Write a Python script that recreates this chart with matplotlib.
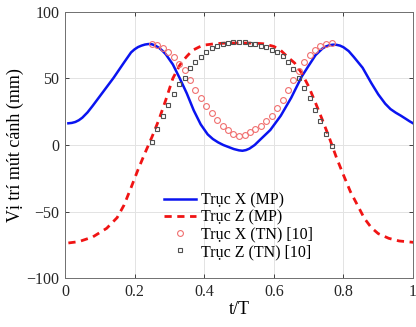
import matplotlib
matplotlib.use("Agg")
import matplotlib.pyplot as plt

# Trục X (MP) - blue solid
tx_mp = [0.01, 0.02, 0.03, 0.04, 0.05, 0.065, 0.08, 0.11, 0.14, 0.17, 0.19, 0.20, 0.21, 0.22,
         0.23, 0.24, 0.25, 0.26, 0.27, 0.28, 0.29, 0.31, 0.33, 0.35, 0.37, 0.39, 0.41, 0.425,
         0.44, 0.455, 0.47, 0.485, 0.50, 0.51, 0.52, 0.53, 0.545, 0.56, 0.59, 0.62, 0.65,
         0.68, 0.70, 0.72, 0.74, 0.75, 0.76, 0.77, 0.78, 0.79, 0.80, 0.815, 0.83, 0.855,
         0.88, 0.90, 0.92, 0.935, 0.95, 0.965, 0.98, 0.99, 1.00]
x_mp = [16.3, 16.6, 17.3, 18.6, 20.5, 24.5, 29.5, 40, 50.5, 62, 69.5, 71.8, 73.5, 74.6,
        75.4, 75.8, 75.6, 74.6, 73, 70.8, 68, 60.5, 50, 38.8, 26, 15.5, 8, 4.5,
        2, 0, -1.5, -3, -4, -4.3, -3.8, -2.7, 0, 3.8, 11.3, 22, 35.5,
        51.3, 59.5, 67.5, 72.5, 74, 74.9, 75.3, 75.2, 74.6, 73.4, 70.5, 66, 58,
        46.5, 38, 31, 27, 24.3, 22, 19.5, 17.8, 16.3]

# Trục Z (MP) - red dashed
tz_mp = [0.01, 0.04, 0.08, 0.12, 0.15, 0.17, 0.19, 0.21, 0.23, 0.25, 0.27, 0.29, 0.31, 0.33,
         0.34, 0.35, 0.36, 0.37, 0.385, 0.40, 0.43, 0.46, 0.50, 0.54, 0.57, 0.60, 0.62, 0.64,
         0.66, 0.68, 0.70, 0.72, 0.74, 0.76, 0.78, 0.80, 0.82, 0.84, 0.86, 0.88, 0.90, 0.93,
         0.96, 1.00]
z_mp = [-73.5, -72.5, -69, -62.5, -54.5, -45, -32, -18.5, -6, 6, 19, 34, 50, 60,
        63.5, 66.5, 69.3, 71.5, 73.5, 75, 76, 76.5, 76.5, 76.5, 76, 74, 71, 66,
        61.5, 54, 44, 31.5, 18.5, 5, -9.5, -22.5, -35, -45, -55, -62, -66.5, -70,
        -72, -73]

# Experimental data (TN) [10]
t_tn = [0.250, 0.265, 0.281, 0.297, 0.312, 0.328, 0.344, 0.359, 0.375, 0.391, 0.406, 0.422,
        0.438, 0.453, 0.469, 0.484, 0.500, 0.516, 0.531, 0.547, 0.562, 0.578, 0.594, 0.609,
        0.625, 0.641, 0.656, 0.672, 0.688, 0.703, 0.719, 0.734, 0.750, 0.766]
x_tn = [75.8, 75, 72.5, 69.5, 66, 61, 56, 49, 41.5, 35, 29, 24,
        19, 14.5, 11, 8, 7, 7.5, 10, 12, 14.5, 18, 22, 28,
        34, 41, 48.5, 55.5, 62, 67.5, 71.5, 74.5, 75.8, 76.5]
z_tn = [2.5, 12, 22, 30, 38.5, 45.5, 50.5, 57.5, 62, 66, 70, 72.5,
        74.5, 76, 76.5, 77, 77, 77, 76, 75.5, 74.5, 73.5, 71.5, 69.5,
        66.5, 62.5, 57, 50, 43, 35, 26.5, 18, 8.5, -0.5]

labels = ["Trục X (MP)", "Trục Z (MP)", "Trục X (TN) [10]", "Trục Z (TN) [10]"]
xticks = [0, 0.2, 0.4, 0.6, 0.8, 1]
xticklabels = ["0", "0.2", "0.4", "0.6", "0.8", "1"]
yticks = [-100, -50, 0, 50, 100]

plt.rcParams['font.family'] = ['Liberation Serif', 'DejaVu Serif']

fig = plt.figure(figsize=(4.16, 3.27), dpi=100)
ax = fig.add_axes([0.156, 0.149, 0.837, 0.815])

ax.plot(tx_mp, x_mp, color='#0a14f0', lw=1.8, label=labels[0])
ax.plot(tz_mp, z_mp, color='#f01414', lw=2.0, ls=(0, (2.6, 2.0)), label=labels[1])
ax.plot(t_tn, x_tn, ls='none', marker='o', ms=4.2, mfc='none', mec='#f07070', mew=0.8,
        label=labels[2])
ax.plot(t_tn, z_tn, ls='none', marker='s', ms=3.3, mfc='none', mec='#505050', mew=0.8,
        label=labels[3])

ax.set_xlim(0, 1)
ax.set_ylim(-100, 100)
ax.set_xticks(xticks)
ax.set_xticklabels(xticklabels)
ax.set_yticks(yticks)
ax.grid(True, color='#e3e3e3', lw=0.7)
ax.set_axisbelow(True)
ax.tick_params(direction='in', length=3, width=0.6, labelsize=11.5, colors='#262626',
               top=True, right=True, pad=4)
for s in ax.spines.values():
    s.set_color('#707070')
    s.set_linewidth(0.7)

ax.set_xlabel("t/T", fontsize=13, labelpad=1)
ax.set_ylabel("Vị trí mút cánh (mm)", fontsize=13, labelpad=2)

leg = ax.legend(loc='upper left', bbox_to_anchor=(0.262, 0.353), frameon=False, fontsize=11.5,
                handlelength=2.0, handletextpad=0.3, labelspacing=0.08, borderpad=0)

fig.savefig("out.png", dpi=100)
